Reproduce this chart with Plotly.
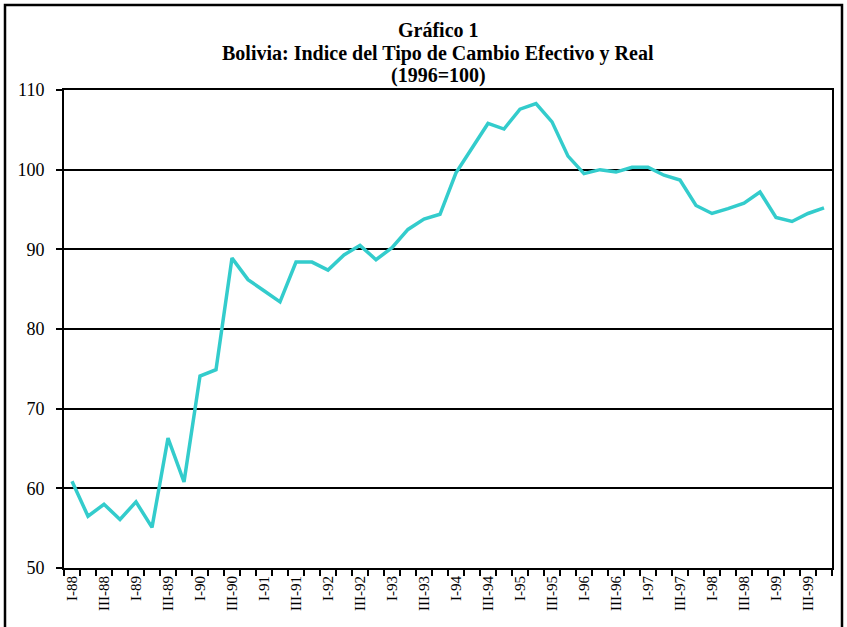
import plotly.graph_objects as go

years = ["88", "89", "90", "91", "92", "93", "94", "95", "96", "97", "98", "99"]
quarters = ["I", "II", "III", "IV"]
categories = [f"{q}-{y}" for y in years for q in quarters]

values = [
    60.9, 56.5, 58.0, 56.1, 58.3, 55.1, 66.3, 60.8,
    74.1, 74.9, 88.9, 86.2, 84.8, 83.4, 88.4, 88.4,
    87.4, 89.3, 90.5, 88.7, 90.2, 92.5, 93.8, 94.4,
    99.6, 102.7, 105.8, 105.1, 107.6, 108.3, 106.0, 101.7,
    99.5, 100.0, 99.7, 100.3, 100.3, 99.3, 98.7, 95.5,
    94.5, 95.1, 95.8, 97.2, 94.0, 93.5, 94.5, 95.2,
]

title_lines = ["Gráfico 1", "Bolivia: Indice del Tipo de Cambio Efectivo y Real", "(1996=100)"]

xs = list(range(len(categories)))
label_idx = [i for i in xs if i % 2 == 0]

fig = go.Figure()
fig.add_trace(go.Scatter(
    x=xs, y=values, mode="lines",
    line=dict(color="#33CCCC", width=3.5),
    hovertext=categories,
))

font_family = "Liberation Serif, Times New Roman, serif"

fig.update_layout(
    width=847, height=627,
    margin=dict(l=64, r=15, t=90, b=59),
    paper_bgcolor="white", plot_bgcolor="white",
    showlegend=False,
    font=dict(family=font_family, color="black"),
)

fig.update_xaxes(
    range=[-0.5, len(categories) - 0.5],
    tickmode="array",
    tickvals=label_idx,
    ticktext=[categories[i] for i in label_idx],
    tickangle=-90,
    ticks="",
    tickfont=dict(size=15, family=font_family, color="black"),
    showgrid=False, zeroline=False,
    showline=True, linecolor="black", linewidth=2, mirror=True,
    minor=dict(tickmode="array", tickvals=[i - 0.5 for i in range(len(categories) + 1)],
               ticks="outside", ticklen=6, tickwidth=2, tickcolor="black", showgrid=False),
)

fig.update_yaxes(
    range=[50, 110], dtick=10, tick0=50,
    ticks="outside", ticklen=6, tickwidth=2, tickcolor="black",
    tickfont=dict(size=18, family=font_family, color="black"),
    ticklabelstandoff=8,
    showgrid=True, gridcolor="black", gridwidth=2,
    zeroline=False,
    showline=True, linecolor="black", linewidth=2, mirror=True,
)

ys = [1.1255, 1.0774, 1.0293]
for txt, yy in zip(title_lines, ys):
    fig.add_annotation(
        text=f"<b>{txt}</b>", x=0.487, y=yy, xref="paper", yref="paper",
        xanchor="center", yanchor="middle", showarrow=False,
        font=dict(size=20, family=font_family, color="black"),
    )

fig.add_shape(
    type="rect", xref="paper", yref="paper",
    x0=(5 - 64) / 768, x1=(842 - 64) / 768,
    y0=-0.2, y1=(568 - 5) / 478,
    line=dict(color="black", width=2.5), fillcolor="rgba(0,0,0,0)", layer="above",
)

fig.write_html("out.html")
